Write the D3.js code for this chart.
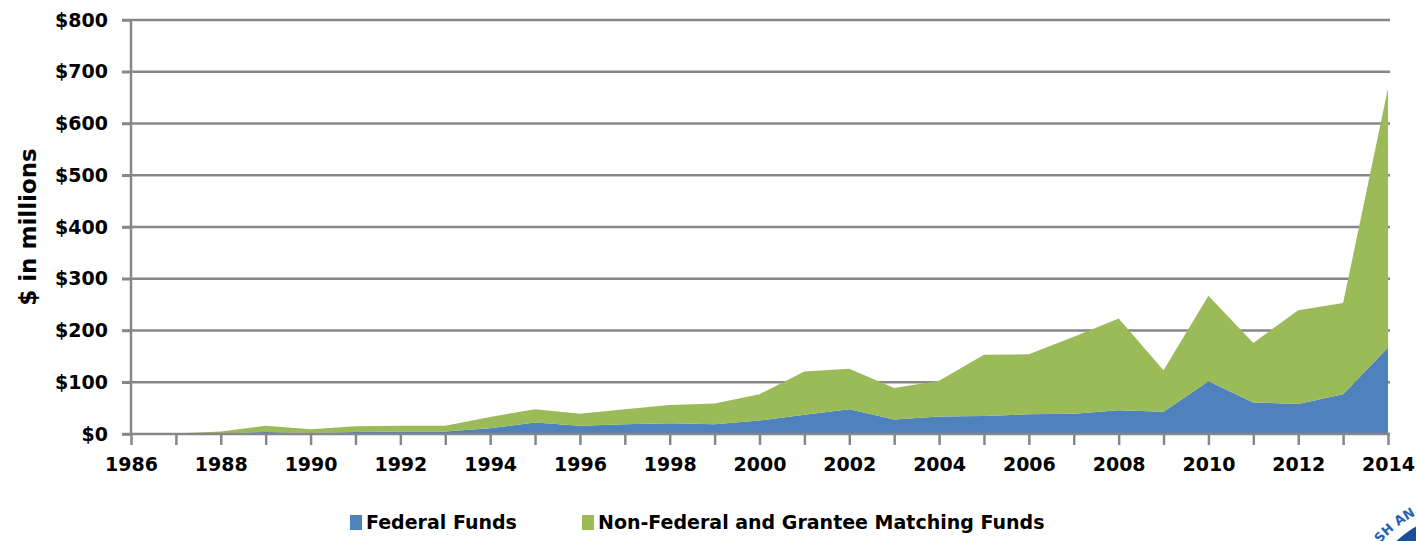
<!DOCTYPE html>
<html>
<head>
<meta charset="utf-8">
<script src="https://cdn.jsdelivr.net/npm/d3@7"></script>
<style>
  html, body { margin: 0; padding: 0; background: #fff; }
  svg { display: block; }
</style>
</head>
<body>
<svg width="1416" height="541"></svg>
<script>
const years = [1986, 1987, 1988, 1989, 1990, 1991, 1992, 1993, 1994, 1995, 1996, 1997, 1998, 1999, 2000,
  2001, 2002, 2003, 2004, 2005, 2006, 2007, 2008, 2009, 2010, 2011, 2012, 2013, 2014];
const federal = [0, 0, 1, 4, 2, 4, 5, 5, 11, 22, 16, 19, 21, 19, 26,
  37, 48, 28, 34, 35, 38, 39, 46, 43, 102, 61, 58, 77, 167];
const nonFederal = [0, 1, 4, 12, 7, 11, 11, 11, 22, 26, 23, 29, 35, 40, 51,
  84, 78, 61, 69, 118, 116, 149, 177, 80, 165, 115, 181, 176, 501];
const yTicks = [0, 100, 200, 300, 400, 500, 600, 700, 800];
const xLabels = d3.range(1986, 2015, 2);

const seriesNames = ["Federal Funds", "Non-Federal and Grantee Matching Funds"];
const colors = ["#4f81bd", "#9bbb59"];

const svg = d3.select("svg");
const font = "DejaVu Sans, sans-serif";
const gridColor = "#878787";

const x = d3.scaleLinear().domain([1986, 2014]).range([131, 1388]);
const y = d3.scaleLinear().domain([0, 800]).range([434, 20]);

const rows = years.map((yr, i) => ({ year: yr, federal: federal[i], nonFederal: nonFederal[i] }));
const stacked = d3.stack().keys(["federal", "nonFederal"])(rows);

// gridlines
svg.append("g")
  .selectAll("line")
  .data(yTicks.filter((d) => d > 0))
  .join("line")
  .attr("x1", 122)
  .attr("x2", 1390)
  .attr("y1", (d) => y(d))
  .attr("y2", (d) => y(d))
  .attr("stroke", gridColor)
  .attr("stroke-width", 2.5);

// areas
const area = d3.area()
  .x((d) => x(d.data.year))
  .y0((d) => y(d[0]))
  .y1((d) => y(d[1]));

svg.append("g")
  .selectAll("path")
  .data(stacked)
  .join("path")
  .attr("d", area)
  .attr("fill", (d, i) => colors[i]);

// y axis
const yAxis = svg.append("g")
  .attr("transform", `translate(${x.range()[0]},0)`)
  .call(d3.axisLeft(y).tickValues(yTicks).tickSize(9).tickPadding(14).tickFormat((d) => "$" + d));
yAxis.select(".domain").attr("stroke", gridColor).attr("stroke-width", 2.5)
  .attr("d", `M0,${y(800)}V${y(0)}`);
yAxis.selectAll(".tick line").attr("stroke", gridColor).attr("stroke-width", 2.5);
yAxis.selectAll(".tick text")
  .attr("font-family", font)
  .attr("font-weight", "bold")
  .attr("font-size", 19)
  .attr("fill", "#000");

// x axis
const xAxis = svg.append("g")
  .attr("transform", `translate(0,${y(0)})`)
  .call(d3.axisBottom(x).tickValues(years).tickSize(11).tickPadding(13)
    .tickFormat((d) => (xLabels.includes(d) ? d : "")));
xAxis.select(".domain").attr("stroke", gridColor).attr("stroke-width", 2.5)
  .attr("d", `M122,0H1390`);
xAxis.selectAll(".tick line").attr("stroke", gridColor).attr("stroke-width", 2.5);
xAxis.selectAll(".tick text")
  .attr("font-family", font)
  .attr("font-weight", "bold")
  .attr("font-size", 19)
  .attr("fill", "#000");

// y axis title
svg.append("text")
  .attr("transform", "translate(36,227) rotate(-90)")
  .attr("text-anchor", "middle")
  .attr("font-family", font)
  .attr("font-weight", "bold")
  .attr("font-size", 23)
  .attr("fill", "#000")
  .text("$ in millions");

// legend
const legendX = [350, 582];
const legend = svg.append("g")
  .selectAll("g")
  .data(seriesNames)
  .join("g")
  .attr("transform", (d, i) => `translate(${legendX[i]},515)`);
legend.append("rect")
  .attr("width", 12)
  .attr("height", 15)
  .attr("fill", (d, i) => colors[i]);
legend.append("text")
  .attr("x", 16)
  .attr("y", 14)
  .attr("font-family", font)
  .attr("font-weight", "bold")
  .attr("font-size", 19)
  .attr("fill", "#000")
  .text((d) => d);

// partial seal in the corner, cut off like in the source image
const seal = svg.append("g").attr("transform", "translate(1470,620)");
seal.append("circle").attr("r", 108).attr("fill", "#1a4f9c");
const arc = d3.path();
arc.arc(0, 0, 118, (-160 * Math.PI) / 180, (-80 * Math.PI) / 180);
seal.append("path").attr("id", "sealArc").attr("d", arc.toString()).attr("fill", "none");
seal.append("text")
  .attr("font-family", font)
  .attr("font-weight", "bold")
  .attr("font-size", 13)
  .attr("fill", "#2563b5")
  .append("textPath")
  .attr("href", "#sealArc")
  .attr("startOffset", 42)
  .text("SH AN");
</script>
</body>
</html>
